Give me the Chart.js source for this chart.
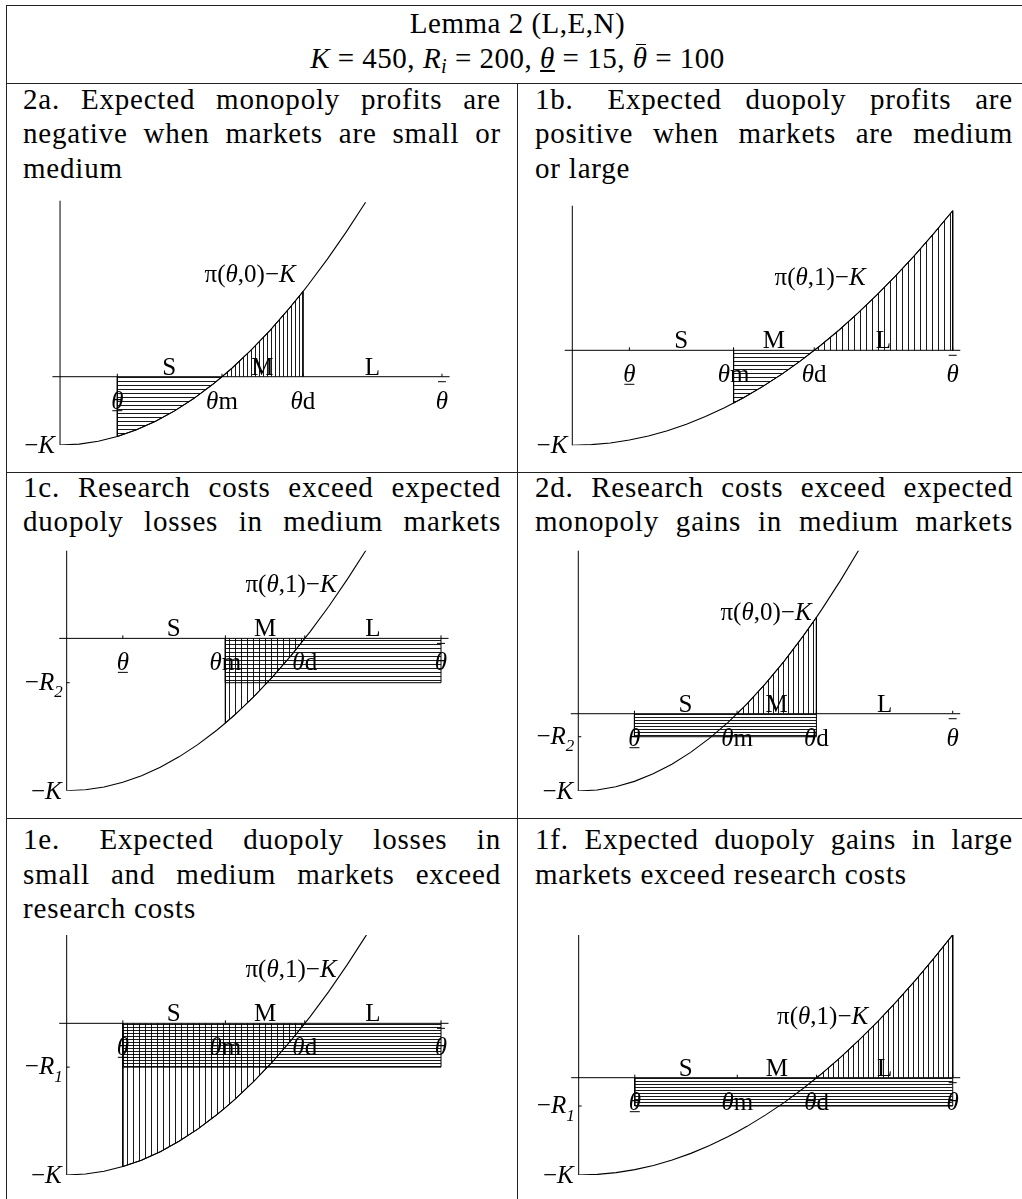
<!DOCTYPE html>
<html>
<head>
<meta charset="utf-8">
<script src="https://cdn.jsdelivr.net/npm/chart.js@4.4.1/dist/chart.umd.min.js"></script>
<style>
  body { margin: 0; background: #fff; width: 1022px; height: 1199px; position: relative; overflow: hidden;
         font-family: "Liberation Serif", "Times New Roman", serif; color: #000; }
  .ln { position: absolute; font-size: 29px; line-height: 34.5px; white-space: nowrap; letter-spacing: 0.8px; }
  .j { width: 478px; white-space: normal; text-align: justify; text-align-last: justify; }
  .c { left: 6px; width: 1023px; text-align: center; letter-spacing: 0.5px; }
  .hl { position: absolute; height: 1px; background: #222; }
  .vl { position: absolute; width: 1px; background: #222; }
  sub { font-size: 0.7em; vertical-align: -0.25em; line-height: 0; }
  .ul { text-decoration: underline; }
  .ob { display: inline-block; position: relative; }
  .ob::before { content: ""; position: absolute; left: 3px; right: 1px; top: 3px; border-top: 1.3px solid #000; }
  .sp { display: inline-block; width: 10px; }
  canvas { position: absolute; }
</style>
</head>
<body>
<!-- table rules -->
<div class="hl" style="left:6px; top:5px; width:1023px"></div>
<div class="hl" style="left:6px; top:83px; width:1023px"></div>
<div class="hl" style="left:6px; top:472px; width:1023px"></div>
<div class="hl" style="left:6px; top:818px; width:1023px"></div>
<div class="vl" style="left:6px; top:5px; height:1194px"></div>
<div class="vl" style="left:517px; top:83px; height:1116px"></div>

<!-- heading -->
<div class="ln c" style="top:6px">Lemma 2 (L,E,N)</div>
<div class="ln c" style="top:40.5px"><i>K</i> = 450, <i>R<sub>i</sub></i> = 200, <span class="ul"><i>θ</i></span> = 15, <span class="ob"><i>θ</i></span> = 100</div>

<!-- row 1 -->
<div class="ln j" style="left:23px; top:81.5px">2a. Expected monopoly profits are</div>
<div class="ln j" style="left:23px; top:116px">negative when markets are small or</div>
<div class="ln" style="left:23px; top:150.5px">medium</div>
<div class="ln j" style="left:535px; top:81.5px">1b.<span class="sp"></span> Expected duopoly profits are</div>
<div class="ln j" style="left:535px; top:116px">positive when markets are medium</div>
<div class="ln" style="left:535px; top:150.5px">or large</div>

<!-- row 2 -->
<div class="ln j" style="left:23px; top:469.5px">1c. Research costs exceed expected</div>
<div class="ln j" style="left:23px; top:504px">duopoly losses in medium markets</div>
<div class="ln j" style="left:535px; top:469.5px">2d. Research costs exceed expected</div>
<div class="ln j" style="left:535px; top:504px">monopoly gains in medium markets</div>

<!-- row 3 -->
<div class="ln j" style="left:23px; top:822px">1e.<span class="sp"></span> Expected duopoly losses in</div>
<div class="ln j" style="left:23px; top:856.5px">small and medium markets exceed</div>
<div class="ln" style="left:23px; top:891px">research costs</div>
<div class="ln j" style="left:535px; top:822px">1f. Expected duopoly gains in large</div>
<div class="ln" style="left:535px; top:856.5px">markets exceed research costs</div>

<script>
// ---- data ----
const theta = [0, 5, 10, 15, 20, 25, 30, 35, 40, 42.4, 45, 50, 55, 60, 63.6, 65, 70, 75, 80, 85, 90, 95, 100];
// pi(theta,0) - K  (monopoly), leaves the plot above theta = 80
const monopolyMinusK = [-450, -444, -425, -394, -350, -294, -225, -144, -50, 0, 56, 175, 306, 450, 561, 606, 775, 956, 1150, null, null, null, null];
// pi(theta,1) - K  (duopoly)
const duopolyMinusK = [-450, -447, -439, -425, -406, -381, -350, -314, -272, -250, -225, -172, -114, -50, 0, 19, 94, 175, 261, 353, 450, 553, 661];

const K = 450;
const thetaLow = 15, thetaM = 42.4, thetaD = 63.6, thetaBar = 100;
const tickThetas = [thetaLow, thetaM, thetaD, thetaBar];
const zoneNames = ['S', 'M', 'L'];
const zoneCentres = [28.6, 53, 81.8];

// per panel: 2a, 1b, 1c, 2d, 1e, 1f
const panelYMax = [1160, 685, 259, 949, 262, 660];
const researchCost = [null, null, 131, 134, 130, 131];
const researchIndex = [null, null, '2', '2', '1', '1'];

// ---- drawing ----
const FONT = '"Liberation Serif", "Times New Roman", serif';
const FS = 25;

function rich(ctx, parts, x, y, align) {
  const fontOf = p => (p.i ? 'italic ' : '') + (p.s ? FS * 0.68 : FS) + 'px ' + FONT;
  let w = 0;
  for (const p of parts) { ctx.font = fontOf(p); w += ctx.measureText(p.t).width; }
  let cx = align === 'right' ? x - w : align === 'center' ? x - w / 2 : x;
  for (const p of parts) {
    ctx.font = fontOf(p);
    ctx.fillText(p.t, cx, y + (p.s ? FS * 0.3 : 0));
    cx += ctx.measureText(p.t).width;
  }
}
const T = (t, i, s) => ({ t, i, s });

function seg(ctx, x1, y1, x2, y2) {
  ctx.beginPath(); ctx.moveTo(x1, y1); ctx.lineTo(x2, y2); ctx.stroke();
}

const decor = {
  id: 'decor',
  beforeDatasetsDraw(chart, args, o) {
    const { ctx } = chart;
    const xs = chart.scales.x, ys = chart.scales.y;
    const X = v => xs.getPixelForValue(v), Y = v => ys.getPixelForValue(v);
    ctx.save();
    ctx.strokeStyle = '#000';
    ctx.fillStyle = '#000';
    ctx.lineWidth = 1;
    ctx.textBaseline = 'alphabetic';
    ctx.textAlign = 'left';
    // axes
    seg(ctx, X(xs.min), Y(0), X(xs.max), Y(0));
    seg(ctx, X(0), Y(ys.min), X(0), Y(ys.max));
    tickThetas.forEach(t => seg(ctx, X(t), Y(0), X(t), Y(0) - 3));
    // theta labels under the axis
    const by = Y(0) + 32;
    rich(ctx, [T('θ', true)], X(thetaLow), by, 'center');
    seg(ctx, X(thetaLow) - 5, by + 2, X(thetaLow) + 5, by + 2);
    rich(ctx, [T('θ', true), T('m')], X(thetaM), by, 'center');
    rich(ctx, [T('θ', true), T('d')], X(thetaD), by, 'center');
    rich(ctx, [T('θ', true)], X(thetaBar), by, 'center');
    seg(ctx, X(thetaBar) - 4, Y(0) + 5, X(thetaBar) + 4, Y(0) + 5);
    // market size zones
    zoneNames.forEach((n, i) => rich(ctx, [T(n)], X(zoneCentres[i]), Y(0) - 2, 'center'));
    // y labels
    rich(ctx, [T('−'), T('K', true)], X(0) - 5, Y(-K) + 8, 'right');
    if (o.r) {
      seg(ctx, X(0), Y(-o.r), X(0) + 3, Y(-o.r));
      rich(ctx, [T('−'), T('R', true), T(o.rSub, true, true)], X(0) - 4, Y(-o.r) + 7, 'right');
    }
    // curve label
    rich(ctx, [T('π('), T('θ', true), T(',' + o.pi + ')−'), T('K', true)], X(o.piAt[0]), Y(o.piAt[1]), 'right');
    ctx.restore();
  }
};

function hatch(ctx, dir, step) {
  const c = document.createElement('canvas');
  c.width = step; c.height = step;
  const g = c.getContext('2d');
  g.fillStyle = 'rgba(0,0,0,0.9)';
  if (dir === 'v') g.fillRect(0, 0, 1, step); else g.fillRect(0, 0, step, 1);
  return ctx.createPattern(c, 'repeat');
}

// region between the curve and zero, theta in [a, b]
function underCurve(curve, a, b) {
  const pts = [{ x: a, y: 0 }];
  theta.forEach((t, i) => { if (t >= a && t <= b && curve[i] !== null) pts.push({ x: t, y: curve[i] }); });
  pts.push({ x: b, y: 0 });
  return pts;
}
// rectangle from zero down to -R, theta in [a, b]
function costBlock(r, a, b) {
  return [{ x: a, y: 0 }, { x: a, y: -r }, { x: b, y: -r }, { x: b, y: 0 }];
}

// layout: canvas box [left, top, w, h] and plot frame [left, top, right, bottom] in page pixels
const panels = [
  { curve: monopolyMinusK, pi: '0', piAt: [61.7, 625], box: [7, 185, 510, 286], frame: [52.4, 200.7, 449.6, 445],
    curveH: [thetaLow, thetaM], curveV: [thetaM, thetaD], block: null, vStep: 4, hStep: 4 },
  { curve: duopolyMinusK, pi: '1', piAt: [77.1, 309], box: [518, 185, 504, 286], frame: [564.7, 205.7, 960.3, 445.3],
    curveH: [thetaM, thetaD], curveV: [thetaD, thetaBar], block: null, vStep: 6, hStep: 4 },
  { curve: duopolyMinusK, pi: '1', piAt: [72.1, 138], box: [7, 540, 510, 277], frame: [59.2, 550.7, 448.5, 790.7],
    curveH: null, curveV: [thetaM, thetaD], block: [thetaM, thetaBar], vStep: 6, hStep: 4 },
  { curve: monopolyMinusK, pi: '0', piAt: [62.3, 545], box: [518, 540, 504, 277], frame: [570.8, 550.7, 960.2, 791],
    curveH: null, curveV: [thetaM, thetaD], block: [thetaLow, thetaD], vStep: 5, hStep: 3 },
  { curve: duopolyMinusK, pi: '1', piAt: [72.1, 138], box: [7, 922, 510, 277], frame: [59.2, 935, 448.5, 1175],
    curveH: null, curveV: [thetaLow, thetaD], block: [thetaLow, thetaBar], vStep: 6, hStep: 3 },
  { curve: duopolyMinusK, pi: '1', piAt: [77.4, 248], box: [518, 922, 504, 277], frame: [571.2, 935, 960.2, 1175],
    curveH: null, curveV: [thetaD, thetaBar], block: [thetaLow, thetaBar], vStep: 5, hStep: 3 }
];

panels.forEach((p, k) => {
  const cv = document.createElement('canvas');
  cv.width = p.box[2]; cv.height = p.box[3];
  cv.style.left = p.box[0] + 'px'; cv.style.top = p.box[1] + 'px';
  document.body.appendChild(cv);
  const ctx = cv.getContext('2d');

  const line = { borderColor: '#000', borderWidth: 1, pointRadius: 0 };
  const datasets = [{
    ...line, borderWidth: 1.1, fill: false,
    data: theta.map((t, i) => ({ x: t, y: p.curve[i] })).filter(q => q.y !== null)
  }];
  if (p.curveV) datasets.push({ ...line, fill: 'origin', backgroundColor: hatch(ctx, 'v', p.vStep), data: underCurve(p.curve, p.curveV[0], p.curveV[1]) });
  if (p.curveH) datasets.push({ ...line, fill: 'origin', backgroundColor: hatch(ctx, 'h', p.hStep), data: underCurve(p.curve, p.curveH[0], p.curveH[1]) });
  if (p.block) datasets.push({ ...line, fill: 'origin', backgroundColor: hatch(ctx, 'h', p.hStep), data: costBlock(researchCost[k], p.block[0], p.block[1]) });

  new Chart(cv, {
    type: 'line',
    data: { datasets },
    options: {
      responsive: false,
      animation: false,
      events: [],
      layout: {
        padding: {
          left: p.frame[0] - p.box[0],
          top: p.frame[1] - p.box[1],
          right: p.box[0] + p.box[2] - p.frame[2],
          bottom: p.box[1] + p.box[3] - p.frame[3]
        }
      },
      plugins: {
        legend: { display: false },
        tooltip: { enabled: false },
        decor: { pi: p.pi, piAt: p.piAt, r: researchCost[k], rSub: researchIndex[k] }
      },
      scales: {
        x: { type: 'linear', min: -2, max: 102, display: false },
        y: { type: 'linear', min: -K, max: panelYMax[k], display: false }
      }
    },
    plugins: [decor]
  });
});
</script>
</body>
</html>
